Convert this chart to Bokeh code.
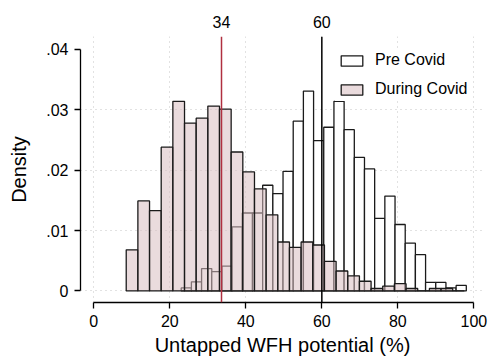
from bokeh.plotting import figure
from bokeh.models import Range1d, FixedTicker, LinearAxis, Span, Legend, LegendItem
from bokeh.embed import file_html
from bokeh.resources import INLINE

# ---- data ----
pre_start = 23.0
pre_width = 2.679
pre_density = [0.0005, 0.0015, 0.0037, 0.0032, 0.0041, 0.0106, 0.0129, 0.0129,
               0.0175, 0.0161, 0.0198, 0.0281, 0.0331, 0.0249, 0.0271, 0.0314,
               0.0267, 0.0221, 0.0202, 0.0120, 0.0157, 0.0110, 0.0079, 0.0060,
               0.0014, 0.0014, 0.0005, 0.0009]

during_start = 8.53
during_width = 3.068
during_density = [0.0068, 0.0149, 0.0133, 0.0238, 0.0314, 0.0278, 0.0286, 0.0306,
                  0.0301, 0.0230, 0.0197, 0.0169, 0.0126, 0.0081, 0.0072, 0.0081,
                  0.0076, 0.0049, 0.0033, 0.0025, 0.0016, 0.0004, 0.0008, 0.0012,
                  0.0004, 0.0, 0.0004, 0.0004, 0.0]

mean_values = [33.6, 60.0]
mean_labels = ["34", "60"]
series_names = ["Pre Covid", "During Covid"]
xticks = [0, 20, 40, 60, 80, 100]
yticks = [0, 0.01, 0.02, 0.03, 0.04]
ytick_labels = ["0", ".01", ".02", ".03", ".04"]
xtitle = "Untapped WFH potential (%)"
ytitle = "Density"

FONT = "Liberation Sans"

def edges(start, width, n):
    left = [start + i * width for i in range(n)]
    right = [l + width for l in left]
    return left, right

p = figure(width=488, height=358, output_backend="svg", toolbar_location=None,
           x_range=Range1d(-3.5, 102.8), y_range=Range1d(-0.00192, 0.04213),
           min_border_left=80, min_border_right=4, min_border_top=36,
           min_border_bottom=54)
p.outline_line_alpha = 0
p.background_fill_color = "white"
p.border_fill_color = "white"

pl, pr = edges(pre_start, pre_width, len(pre_density))
r_pre = p.quad(left=pl, right=pr, bottom=0, top=pre_density,
               fill_color="white", line_color="#1a1a1a", line_width=1.3)
dl, dr = edges(during_start, during_width, len(during_density))
r_dur = p.quad(left=dl, right=dr, bottom=0, top=during_density,
               fill_color="#D9BDC1", fill_alpha=0.55, line_color="#1a1a1a",
               line_width=1.3)

# mean lines
p.add_layout(Span(location=mean_values[0], dimension="height",
                  line_color="#B03040", line_width=1.5))
p.add_layout(Span(location=mean_values[1], dimension="height",
                  line_color="black", line_width=1.5))

# grids
p.xgrid.ticker = FixedTicker(ticks=xticks)
p.ygrid.ticker = FixedTicker(ticks=yticks[:-1])
for g in (p.xgrid, p.ygrid):
    g.grid_line_color = "#c4c4c4"
    g.grid_line_dash = "1 4"
    g.grid_line_width = 1

# axes
xa = p.xaxis[0]
xa.ticker = FixedTicker(ticks=xticks)
xa.bounds = (0, 100)
xa.axis_label = xtitle
ya = p.yaxis[0]
ya.ticker = FixedTicker(ticks=yticks)
ya.bounds = (0, 0.04)
ya.major_label_overrides = {t: l for t, l in zip(yticks, ytick_labels)}
ya.axis_label = ytitle
ya.major_label_orientation = "horizontal"
for ax in (xa, ya):
    ax.axis_line_color = "black"
    ax.axis_line_width = 1.3
    ax.major_tick_line_color = "black"
    ax.major_tick_line_width = 1.3
    ax.major_tick_in = 0
    ax.major_tick_out = 6
    ax.minor_tick_line_alpha = 0
    ax.major_label_text_font = FONT
    ax.major_label_text_font_size = "16px"
    ax.major_label_text_color = "black"
    ax.axis_label_text_font = FONT
    ax.axis_label_text_font_size = "20px"
    ax.axis_label_text_font_style = "normal"
    ax.axis_label_text_color = "black"
xa.major_label_standoff = 6
xa.axis_label_standoff = 4
ya.major_label_standoff = 6
ya.axis_label_standoff = 13

top = LinearAxis(ticker=FixedTicker(ticks=mean_values),
                 major_label_overrides={v: l for v, l in zip(mean_values, mean_labels)},
                 axis_line_alpha=0, major_tick_line_alpha=0, minor_tick_line_alpha=0,
                 major_tick_out=0, major_tick_in=0, major_label_standoff=9,
                 major_label_text_font=FONT, major_label_text_font_size="16px",
                 major_label_text_color="black")
p.add_layout(top, "above")

legend = Legend(items=[LegendItem(label=series_names[0], renderers=[r_pre]),
                       LegendItem(label=series_names[1], renderers=[r_dur])],
                location=(255, 201), orientation="vertical",
                glyph_width=27, glyph_height=13, label_height=18,
                label_standoff=10, spacing=11, padding=3,
                label_text_font=FONT, label_text_font_size="16px",
                label_text_color="black", border_line_alpha=0,
                background_fill_color="white", background_fill_alpha=1)
p.add_layout(legend)

open("out.html", "w").write(file_html(p, INLINE))
